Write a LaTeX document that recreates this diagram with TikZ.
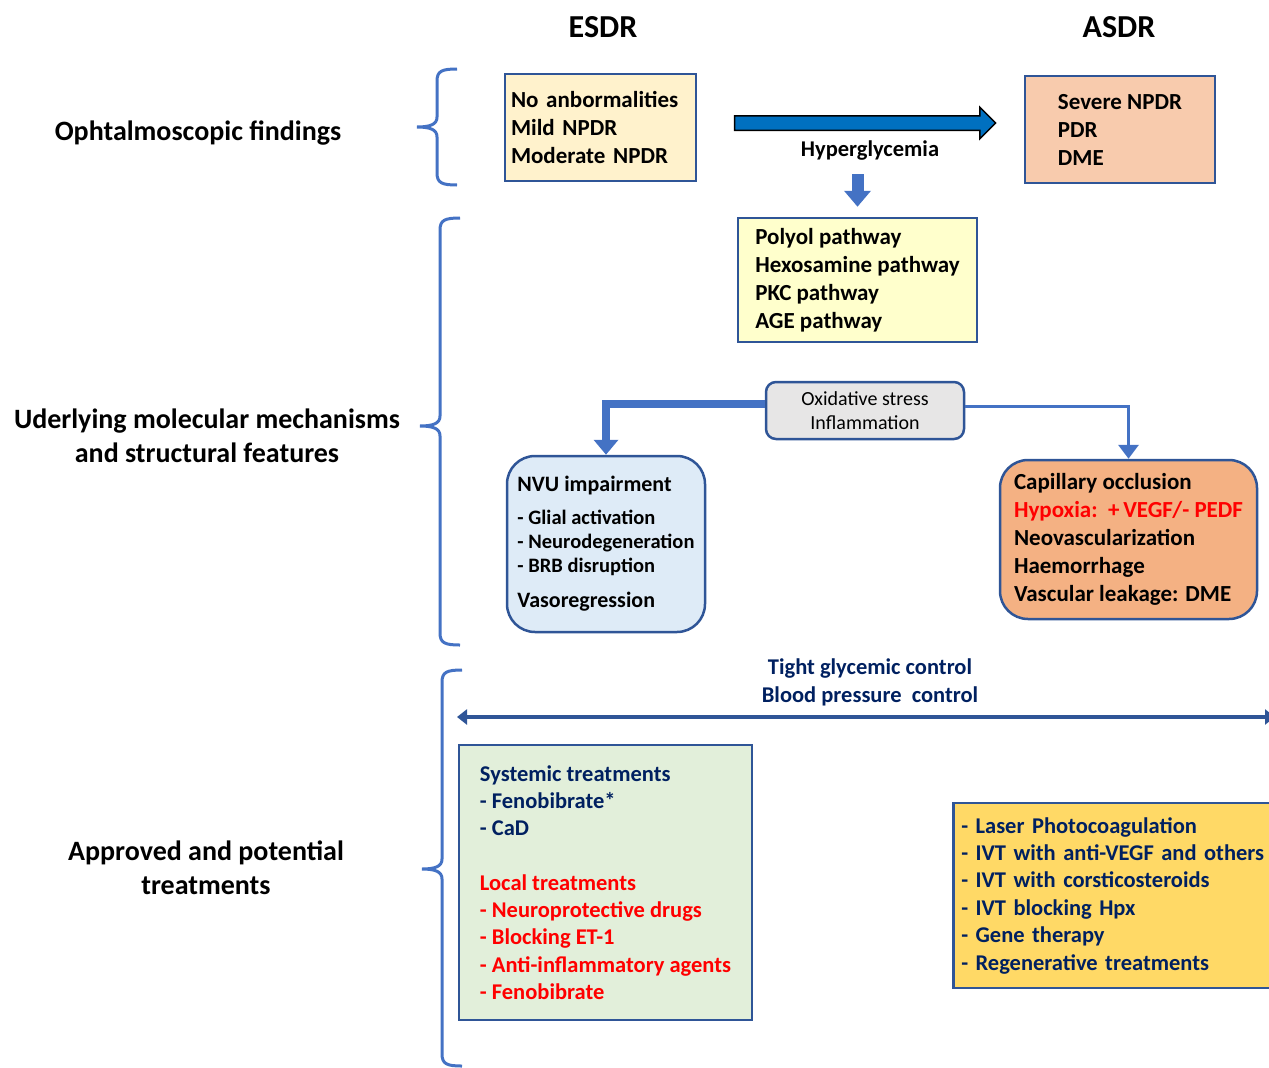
\documentclass[tikz,border=0pt]{standalone}
\usepackage{fontspec}
\setmainfont{Carlito}
\usetikzlibrary{shapes.arrows, arrows.meta}

\definecolor{braceblue}{HTML}{4472C4}
\definecolor{edgeblue}{HTML}{2F5597}
\definecolor{arrowblue}{HTML}{0070C0}
\definecolor{navy}{HTML}{002060}
\definecolor{cream}{HTML}{FFF2CC}
\definecolor{peach}{HTML}{F8CBAD}
\definecolor{paleyellow}{HTML}{FFFFCC}
\definecolor{stressgray}{HTML}{E7E6E6}
\definecolor{paleblue}{HTML}{DEEBF7}
\definecolor{deeppeach}{HTML}{F4B183}
\definecolor{palegreen}{HTML}{E2EFDA}
\definecolor{gold}{HTML}{FFD966}

\tikzstyle{box}=[draw=edgeblue, line width=2.5pt, align=left, font=\bfseries\fontsize{23}{28}\selectfont]
\tikzstyle{roundbox}=[box, rounded corners=28pt]
\tikzstyle{heading}=[font=\bfseries\fontsize{32}{38}\selectfont]
\tikzstyle{sidelabel}=[align=center, font=\bfseries\fontsize{28}{34}\selectfont]
\tikzstyle{brace}=[draw=braceblue, line width=3pt]

% bar x, top, tip, bottom
\newcommand{\curlybrace}[4]{%
  \draw[brace] (#1+20,#2) .. controls (#1+5,#2) and (#1,#2+2) .. (#1,#2+12)
    -- (#1,#3-10) .. controls (#1,#3-3) and (#1-6,#3) .. (#1-20,#3)
    .. controls (#1-6,#3) and (#1,#3+3) .. (#1,#3+10)
    -- (#1,#4-12) .. controls (#1,#4-2) and (#1+5,#4) .. (#1+20,#4);}
\newcommand{\bullets}{\fontsize{20.5}{24}\selectfont}

\begin{document}
\begin{tikzpicture}[x=1pt, y=-1pt]
\useasboundingbox (0,0) rectangle (1269,1068);
% Column headings
    \node[heading] (esdr) at (603,27) {ESDR};
    \node[heading] (asdr) at (1119,27) {ASDR};
% Row labels and braces
    \node[sidelabel] (ophtal) at (198,133) {Ophtalmoscopic findings};
    \node[sidelabel] (molec) at (207,436) {Uderlying molecular mechanisms\\and structural\ features};
    \node[sidelabel] (treat) at (206,868) {Approved and potential\\treatments};
    \curlybrace{437}{69}{127}{185}
    \curlybrace{440}{218}{426}{645}
    \curlybrace{442}{670}{869}{1066}
% Ophtalmoscopic findings
    \node[box, fill=cream, text width=179pt, inner xsep=6pt, minimum height=107pt] (early) at (600.5,127.5) {No anbormalities\\Mild NPDR\\Moderate NPDR};
    \node[box, fill=peach, minimum width=190pt, minimum height=107pt] (late) at (1120,129.5) {Severe NPDR\\PDR\\DME};
    \node[single arrow, draw=black, fill=arrowblue, line width=1.5pt, inner xsep=0pt, inner ysep=6.5pt,
          minimum height=261pt, single arrow head extend=8.5pt] (hyperarrow) at (861.5,123) {};
    \node[font=\bfseries\fontsize{22.5}{27}\selectfont] (hyper) at (870,151) {Hyperglycemia};
% Molecular mechanisms
    \node[box, fill=paleyellow, minimum width=239pt, minimum height=124pt] (pathways) at (857.5,280) {Polyol pathway\\Hexosamine pathway\\PKC pathway\\AGE pathway};
    \draw[line width=12pt, draw=braceblue, -{Triangle[width=26pt, length=16pt]}, shorten <=10pt, shorten >=10pt]
        (pathways.north |- hyper.south) -- (pathways.north);
    \node[roundbox, rounded corners=10pt, fill=stressgray, align=center, font=\fontsize{20}{24}\selectfont,
          minimum width=198pt, minimum height=57pt] (stress) at (865,410.5) {Oxidative stress\\Inflammation};
    \node[roundbox, fill=paleblue, minimum width=198pt, minimum height=176pt, font=\bfseries\fontsize{22}{24}\selectfont] (nvu) at (606,544)
        {NVU impairment\\[9pt]\bullets- Glial activation\\\bullets- Neurodegeneration\\\bullets- BRB disruption\\[11pt]Vasoregression};
    \node[roundbox, fill=deeppeach, minimum width=257pt, minimum height=159pt] (occlusion) at (1128.5,539.5)
        {Capillary occlusion\\\textcolor{red}{Hypoxia:\ \ +\,VEGF/- PEDF}\\Neovascularization\\Haemorrhage\\Vascular leakage: DME};
    \draw[line width=8pt, draw=braceblue, -{Triangle[width=24pt, length=15pt]}] ([yshift=7pt]stress.west) -| (nvu.north);
    \draw[line width=3.5pt, draw=braceblue, -{Triangle[width=20pt, length=14pt]}] ([yshift=4pt]stress.east) -| (occlusion.north);
% Treatments
    \node[font=\bfseries\fontsize{22.5}{28}\selectfont, text=navy, align=center] (control) at (870,682) {Tight glycemic control\\Blood pressure\ \ control};
    \coordinate (leftend) at (457,717);
    \coordinate (rightend) at (1275,717);
    \draw[line width=4pt, draw=edgeblue, {Triangle[width=15pt, length=10pt]}-{Triangle[width=15pt, length=10pt]}] (leftend) -- (rightend);
    \node[box, fill=palegreen, minimum width=293pt, minimum height=275pt, font=\bfseries\fontsize{22.5}{27.3}\selectfont] (local) at (605.5,882.5)
        {\textcolor{navy}{Systemic treatments}\\\textcolor{navy}{- Fenobibrate*}\\\textcolor{navy}{- CaD}\\[27pt]\textcolor{red}{Local treatments}\\\textcolor{red}{- Neuroprotective drugs}\\\textcolor{red}{- Blocking ET-1}\\\textcolor{red}{- Anti-inflammatory agents}\\\textcolor{red}{- Fenobibrate}};
    \node[box, fill=gold, text=navy, text width=310pt, inner xsep=8pt, minimum height=185pt, anchor=west, font=\bfseries\fontsize{22.5}{27.4}\selectfont] (ivt) at (952,895.5)
        {- Laser Photocoagulation\\- IVT with anti-VEGF and others\\- IVT with corsticosteroids\\- IVT blocking Hpx\\- Gene therapy\\- Regenerative treatments};
\end{tikzpicture}
\end{document}
